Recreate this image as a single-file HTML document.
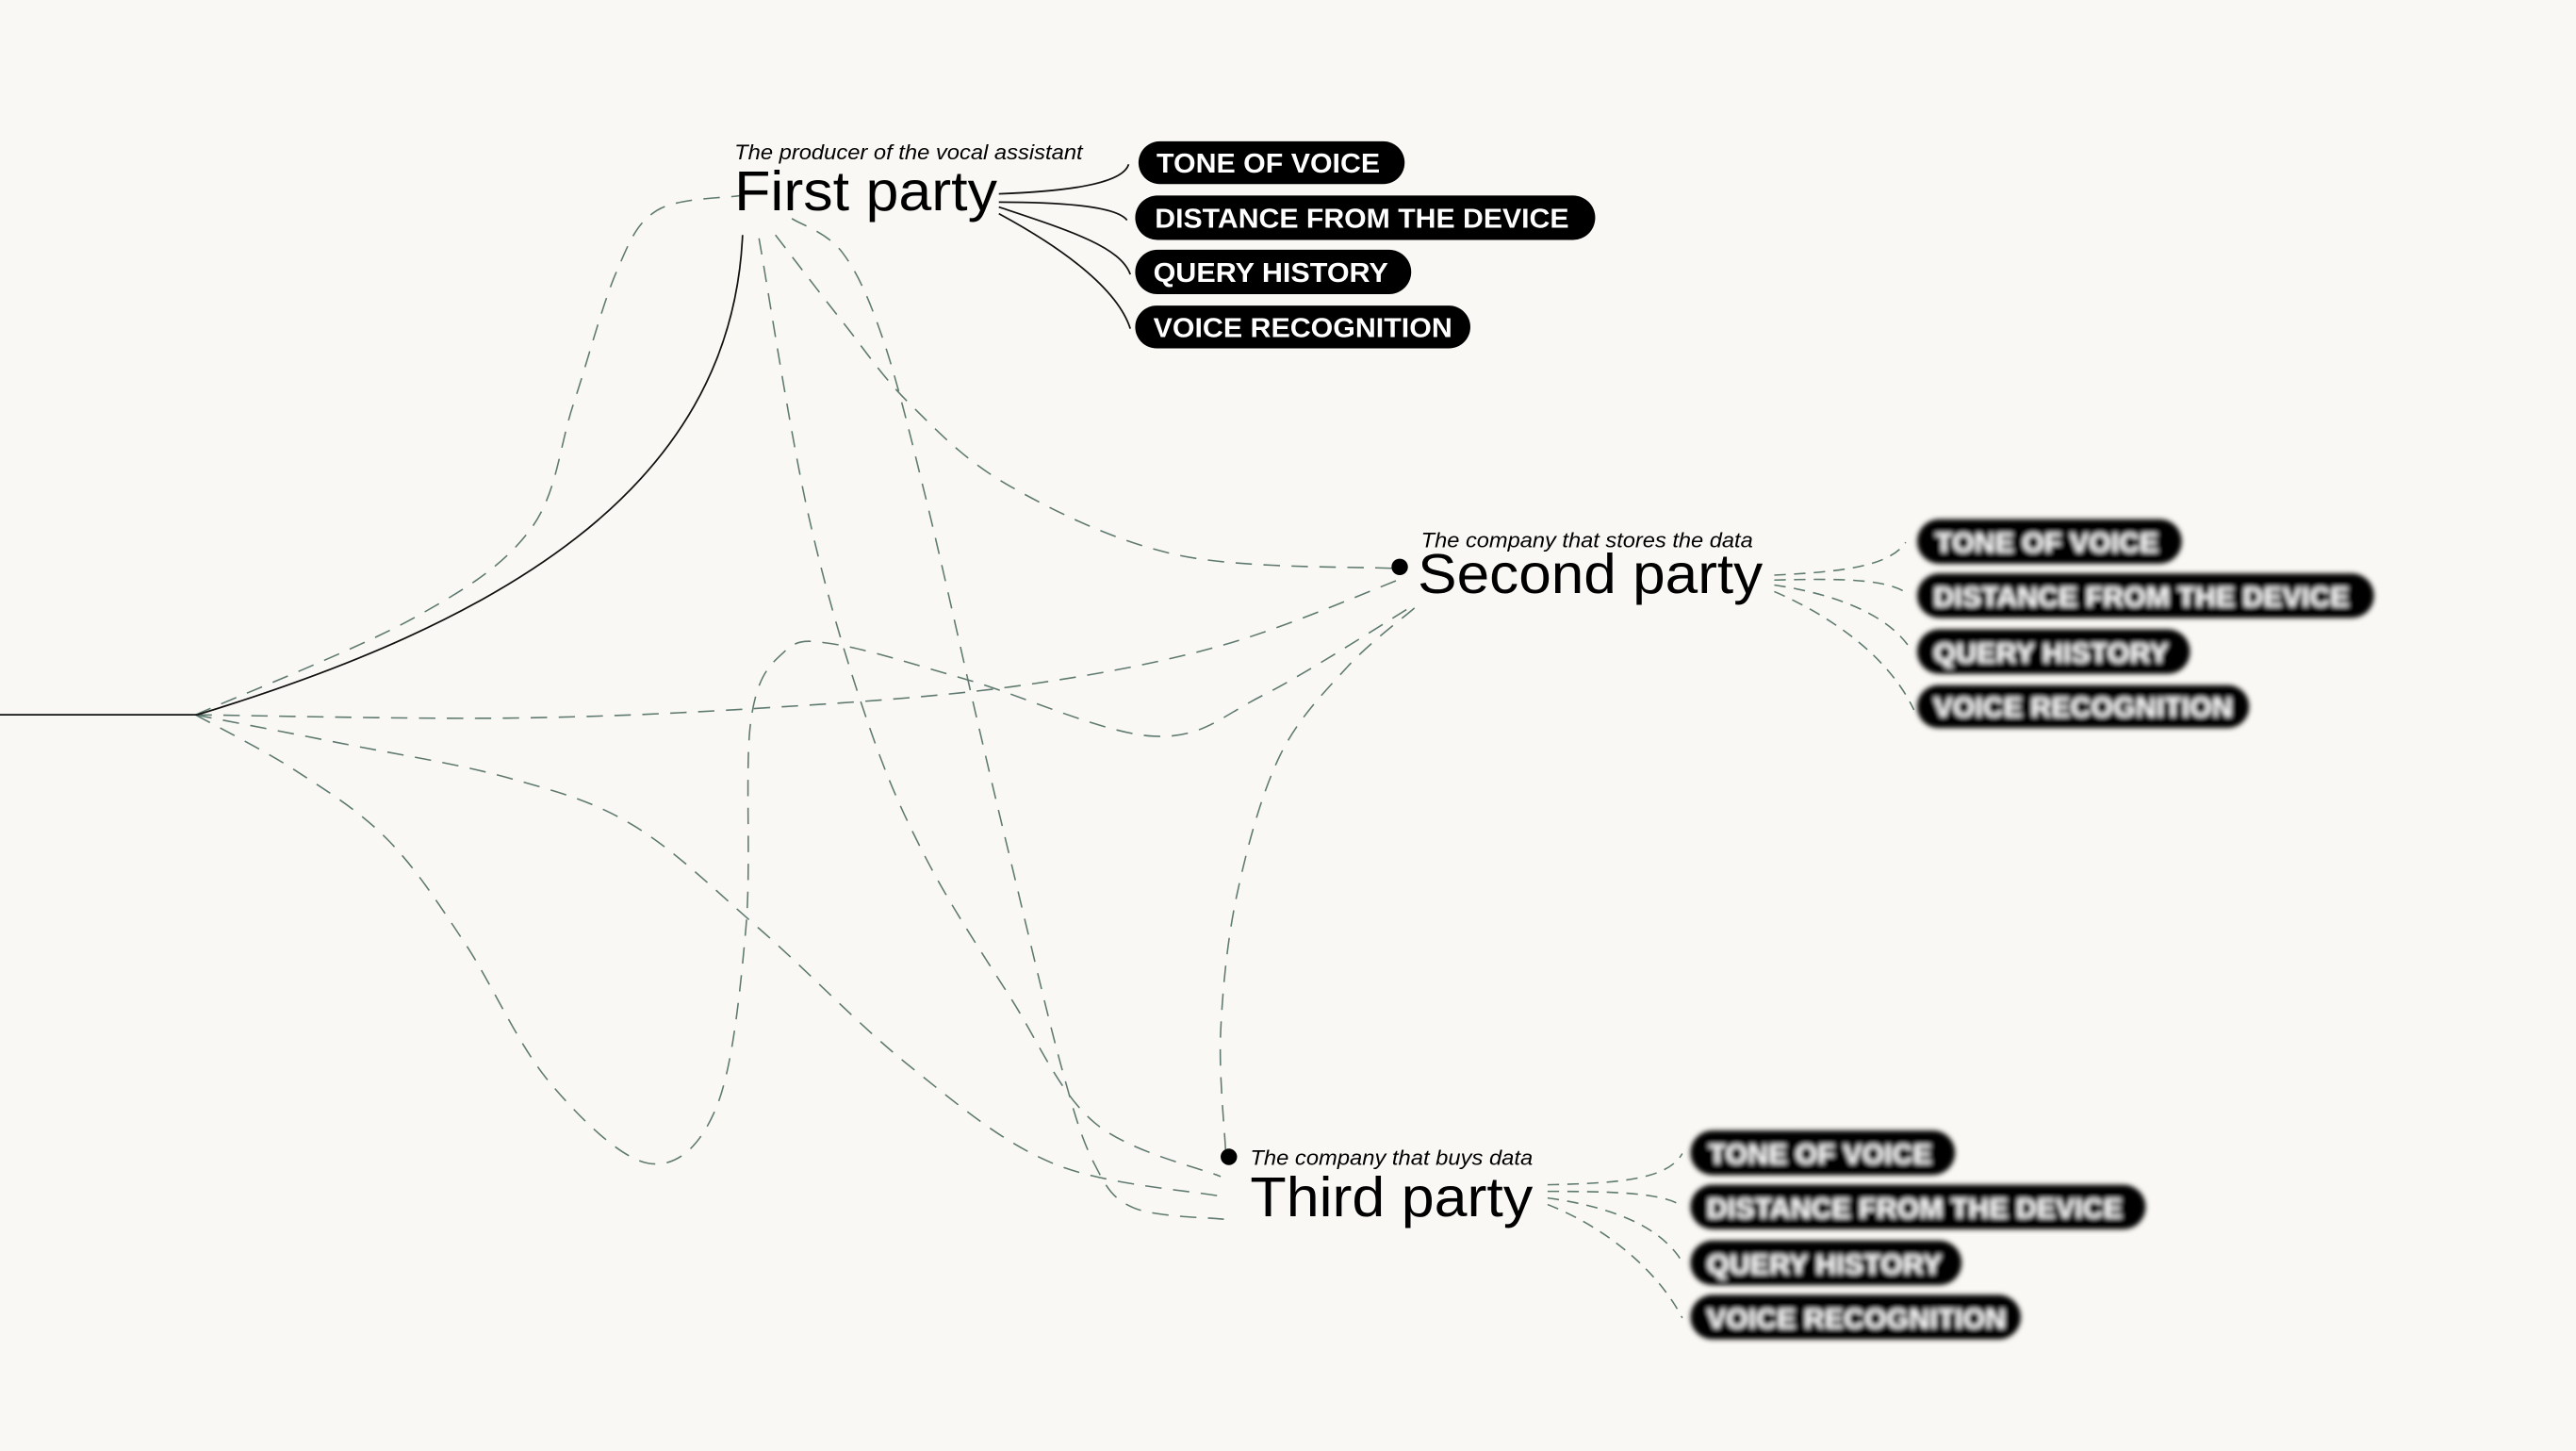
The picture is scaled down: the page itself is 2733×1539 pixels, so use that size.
<!DOCTYPE html>
<html><head><meta charset="utf-8">
<style>
html,body{margin:0;padding:0;background:#faf8f4;}
svg{display:block;}
text{font-family:"Liberation Sans",Arial,sans-serif;}
</style></head>
<body>
<svg id="s" width="2733" height="1539" viewBox="0 0 1568 883" preserveAspectRatio="none" xmlns="http://www.w3.org/2000/svg">
<defs><filter id="bl" x="-10%" y="-30%" width="120%" height="160%"><feGaussianBlur stdDeviation="1.6"/></filter></defs>
<rect width="1568" height="883" fill="#faf8f4"/>
<g id="dash" fill="none" stroke="#5e7a70" stroke-width="0.9" stroke-dasharray="10 7"></g>
<g fill="none" stroke="#111" stroke-width="1">
<path d="M0,435 L120,435"/>
<path d="M120,435 C300,380 445,300 452,143"/>
<path d="M608,118 C660,116 684,110 687,100"/>
<path d="M608,123 C650,123 680,126 686,134"/>
<path d="M608,126 C650,140 682,150 688,167"/>
<path d="M608,130 C645,150 680,175 688,200"/>
</g>
<g fill="none" stroke="#5e7a70" stroke-width="0.9" stroke-dasharray="7 5">
<path d="M1080,350 C1120,348 1150,345 1160,330"/>
<path d="M1080,353 C1120,352 1150,352 1162,362"/>
<path d="M1080,356 C1120,362 1150,375 1163,395"/>
<path d="M1080,360 C1115,375 1150,400 1165,432"/>
<path d="M942,721 C985,720 1015,718 1024,702"/>
<path d="M942,725 C985,725 1012,726 1024,734"/>
<path d="M942,729 C985,735 1012,748 1024,768"/>
<path d="M942,733 C980,748 1010,775 1024,802"/>
</g>
<text x="447" y="97" font-size="12.5" font-style="italic" textLength="212" lengthAdjust="spacingAndGlyphs">The producer of the vocal assistant</text>
<text x="447" y="128" font-size="34" textLength="160" lengthAdjust="spacingAndGlyphs">First party</text>
<g>
<rect x="693" y="86" width="162" height="26" rx="13" fill="#000"/>
<rect x="691" y="119" width="280" height="27" rx="13.5" fill="#000"/>
<rect x="691" y="152" width="168" height="27" rx="13.5" fill="#000"/>
<rect x="691" y="186" width="204" height="26" rx="13" fill="#000"/>
<g fill="#fff" font-size="16.5" font-weight="bold">
<text x="704" y="105" textLength="136" lengthAdjust="spacingAndGlyphs">TONE OF VOICE</text>
<text x="703" y="138.5" textLength="252" lengthAdjust="spacingAndGlyphs">DISTANCE FROM THE DEVICE</text>
<text x="702" y="171.5" textLength="143" lengthAdjust="spacingAndGlyphs">QUERY HISTORY</text>
<text x="702" y="205" textLength="182" lengthAdjust="spacingAndGlyphs">VOICE RECOGNITION</text>
</g></g>
<circle cx="852" cy="345" r="5" fill="#000"/>
<text x="865" y="333" font-size="12.5" font-style="italic" textLength="202" lengthAdjust="spacingAndGlyphs">The company that stores the data</text>
<text x="863" y="361" font-size="34" textLength="210" lengthAdjust="spacingAndGlyphs">Second party</text>
<g filter="url(#bl)">
<rect x="1167" y="316" width="161" height="27" rx="13.5" fill="#000"/>
<rect x="1167" y="349" width="278" height="27" rx="13.5" fill="#000"/>
<rect x="1167" y="383" width="166" height="27" rx="13.5" fill="#000"/>
<rect x="1167" y="417" width="202" height="26" rx="13" fill="#000"/>
<g fill="#fff" font-size="16.5" font-weight="bold">
<text x="1178" y="336" textLength="136" lengthAdjust="spacingAndGlyphs">TONE OF VOICE</text>
<text x="1177" y="369" textLength="253" lengthAdjust="spacingAndGlyphs">DISTANCE FROM THE DEVICE</text>
<text x="1177" y="403" textLength="143" lengthAdjust="spacingAndGlyphs">QUERY HISTORY</text>
<text x="1177" y="436" textLength="182" lengthAdjust="spacingAndGlyphs">VOICE RECOGNITION</text>
</g></g>
<circle cx="748" cy="704" r="5" fill="#000"/>
<text x="761" y="709" font-size="12.5" font-style="italic" textLength="172" lengthAdjust="spacingAndGlyphs">The company that buys data</text>
<text x="761" y="740" font-size="34" textLength="172" lengthAdjust="spacingAndGlyphs">Third party</text>
<g filter="url(#bl)">
<rect x="1029" y="688" width="161" height="27" rx="13.5" fill="#000"/>
<rect x="1029" y="721" width="277" height="27" rx="13.5" fill="#000"/>
<rect x="1029" y="755" width="165" height="27" rx="13.5" fill="#000"/>
<rect x="1029" y="788" width="201" height="27" rx="13.5" fill="#000"/>
<g fill="#fff" font-size="16.5" font-weight="bold">
<text x="1040" y="708" textLength="136" lengthAdjust="spacingAndGlyphs">TONE OF VOICE</text>
<text x="1039" y="741" textLength="253" lengthAdjust="spacingAndGlyphs">DISTANCE FROM THE DEVICE</text>
<text x="1039" y="775" textLength="143" lengthAdjust="spacingAndGlyphs">QUERY HISTORY</text>
<text x="1039" y="808" textLength="182" lengthAdjust="spacingAndGlyphs">VOICE RECOGNITION</text>
</g></g>
</svg>
<script>
var curves=[
[[119,435],[252,376],[323,322],[349,246],[375,166],[400,128],[451,119]],
[[462,145],[492,313],[528,439],[564,523],[615,607],[666,683],[743,716]],
[[472,143],[513,196],[554,246],[615,296],[718,338],[851,346]],
[[482,133],[513,154],[538,208],[564,305],[595,439],[615,523],[646,649],[666,708],[690,735],[745,742]],
[[119,435],[308,437],[462,431],[615,418],[743,393],[856,351]],
[[119,435],[180,469],[236,511],[283,574],[334,658],[395,708],[436,674],[454,565],[457,439],[477,397],[508,392],[590,414],[702,448],[769,423],[861,368]],
[[119,435],[206,452],[308,473],[385,502],[462,565],[554,649],[641,708],[743,728]],
[[861,370],[820,406],[779,460],[753,544],[743,628],[746,700]]
];
var g=document.getElementById('dash');
curves.forEach(function(p){
 var d='M'+p[0][0]+','+p[0][1];
 for(var i=0;i<p.length-1;i++){
  var p0=p[i-1]||p[i],p1=p[i],p2=p[i+1],p3=p[i+2]||p2;
  var c1=[p1[0]+(p2[0]-p0[0])/6,p1[1]+(p2[1]-p0[1])/6];
  var c2=[p2[0]-(p3[0]-p1[0])/6,p2[1]-(p3[1]-p1[1])/6];
  d+=' C'+c1+' '+c2+' '+p2;
 }
 var e=document.createElementNS('http://www.w3.org/2000/svg','path');
 e.setAttribute('d',d);g.appendChild(e);
});
</script>
</body></html>
